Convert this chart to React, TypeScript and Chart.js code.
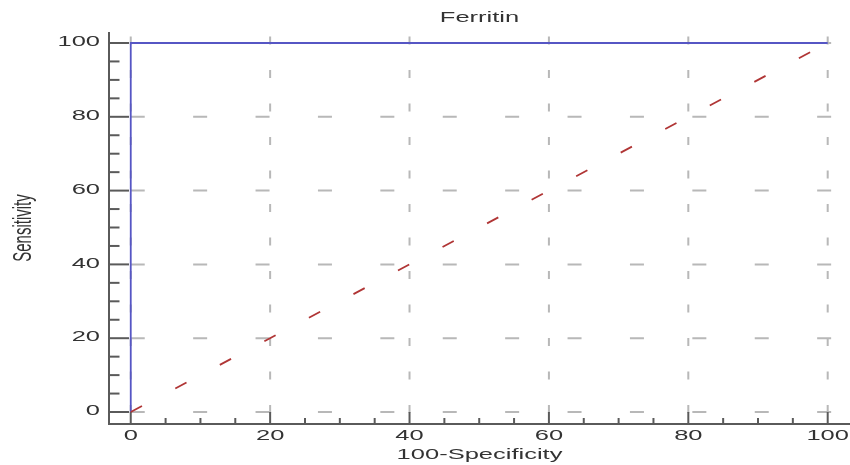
import React, { useEffect, useRef } from "react";
import { Chart, registerables } from "chart.js";

Chart.register(...registerables);

// ---- data ----
const TITLE = "Ferritin";
const X_LABEL = "100-Specificity";
const Y_LABEL = "Sensitivity";

const rocX = [0, 0, 100];
const rocY = [0, 100, 100];

const refX = [0, 100];
const refY = [0, 100];

const majorTicks = [0, 20, 40, 60, 80, 100];
const minorTicks = [5, 10, 15, 25, 30, 35, 45, 50, 55, 65, 70, 75, 85, 90, 95];
const tickLabels = ["0", "20", "40", "60", "80", "100"];

const STRETCH = 1.7;
const FONT = "15px 'Liberation Sans', Arial, sans-serif";
const TEXT_COLOR = "#333333";
const AXIS_COLOR = "#5a5a5a";
const GRID_COLOR = "#b8b8b8";

function stretchedText(
  ctx: CanvasRenderingContext2D,
  text: string,
  x: number,
  y: number,
  align: CanvasTextAlign,
  baseline: CanvasTextBaseline,
  rotate = 0
) {
  ctx.save();
  ctx.translate(x, y);
  ctx.scale(STRETCH, 1);
  if (rotate) ctx.rotate(rotate);
  ctx.font = FONT;
  ctx.fillStyle = TEXT_COLOR;
  ctx.textAlign = align;
  ctx.textBaseline = baseline;
  ctx.fillText(text, 0, 0);
  ctx.restore();
}

const rocAxesPlugin = {
  id: "rocAxes",
  beforeDatasetsDraw(chart: any) {
    const { ctx, chartArea: a, scales } = chart;
    const xs = scales.x;
    const ys = scales.y;
    ctx.save();

    // dashed grid
    ctx.strokeStyle = GRID_COLOR;
    ctx.lineWidth = 2;
    ctx.setLineDash([14, 48.4]);
    for (const v of majorTicks) {
      const py = ys.getPixelForValue(v);
      ctx.beginPath();
      ctx.moveTo(xs.getPixelForValue(0), py);
      ctx.lineTo(a.right, py);
      ctx.stroke();
    }
    ctx.setLineDash([8, 25.5]);
    for (const v of majorTicks) {
      const px = xs.getPixelForValue(v);
      ctx.beginPath();
      ctx.moveTo(px, ys.getPixelForValue(0) + 1);
      ctx.lineTo(px, a.top);
      ctx.stroke();
    }
    ctx.setLineDash([]);

    // axes lines
    ctx.strokeStyle = AXIS_COLOR;
    ctx.lineWidth = 2;
    ctx.beginPath();
    ctx.moveTo(a.left, a.top);
    ctx.lineTo(a.left, a.bottom);
    ctx.lineTo(a.right, a.bottom);
    ctx.stroke();

    // y ticks (inside, pointing right)
    for (const v of majorTicks) {
      const py = ys.getPixelForValue(v);
      ctx.beginPath();
      ctx.moveTo(a.left, py);
      ctx.lineTo(a.left + 20, py);
      ctx.stroke();
    }
    for (const v of minorTicks) {
      const py = ys.getPixelForValue(v);
      ctx.beginPath();
      ctx.moveTo(a.left, py);
      ctx.lineTo(a.left + 10.5, py);
      ctx.stroke();
    }
    // x ticks (inside, pointing up)
    for (const v of majorTicks) {
      const px = xs.getPixelForValue(v);
      ctx.beginPath();
      ctx.moveTo(px, a.bottom);
      ctx.lineTo(px, a.bottom - 12);
      ctx.stroke();
    }
    for (const v of minorTicks) {
      const px = xs.getPixelForValue(v);
      ctx.beginPath();
      ctx.moveTo(px, a.bottom);
      ctx.lineTo(px, a.bottom - 6);
      ctx.stroke();
    }
    ctx.restore();
  },
  afterDraw(chart: any) {
    const { ctx, chartArea: a, scales } = chart;
    const xs = scales.x;
    const ys = scales.y;
    // tick labels
    majorTicks.forEach((v, i) => {
      stretchedText(ctx, tickLabels[i], a.left - 9, ys.getPixelForValue(v) - 1, "right", "middle");
      stretchedText(ctx, tickLabels[i], xs.getPixelForValue(v), 440, "center", "alphabetic");
    });
    // titles
    const cx = (a.left + a.right) / 2;
    stretchedText(ctx, TITLE, cx, 22, "center", "alphabetic");
    stretchedText(ctx, X_LABEL, cx, 459, "center", "alphabetic");
    stretchedText(ctx, Y_LABEL, 31, 228, "center", "alphabetic", -Math.PI / 2);
  },
};

export default function App() {
  const canvasRef = useRef<HTMLCanvasElement | null>(null);

  useEffect(() => {
    const canvas = canvasRef.current;
    if (!canvas) return;
    const chart = new Chart(canvas, {
      type: "line",
      data: {
        datasets: [
          {
            label: "Reference",
            data: refX.map((x, i) => ({ x, y: refY[i] })),
            borderColor: "#b03535",
            borderWidth: 1.8,
            borderDash: [12.7, 37.7],
            pointRadius: 0,
            tension: 0,
            fill: false,
          },
          {
            label: TITLE,
            data: rocX.map((x, i) => ({ x, y: rocY[i] })),
            borderColor: "#5656c4",
            borderWidth: 1.8,
            pointRadius: 0,
            tension: 0,
            fill: false,
          },
        ],
      },
      options: {
        responsive: false,
        animation: false,
        devicePixelRatio: 1,
        layout: { padding: { left: 109, right: 0, top: 32, bottom: 41 } },
        plugins: {
          legend: { display: false },
          tooltip: { enabled: false },
          title: { display: false },
        },
        scales: {
          x: { type: "linear", min: -3.12, max: 103.2, display: false },
          y: { type: "linear", min: -3.25, max: 102.98, display: false },
        },
      },
      plugins: [rocAxesPlugin],
    });
    return () => chart.destroy();
  }, []);

  return (
    <div style={{ position: "absolute", left: 0, top: 0, width: 850, height: 465, background: "#fff" }}>
      <canvas ref={canvasRef} width={850} height={465} />
    </div>
  );
}
